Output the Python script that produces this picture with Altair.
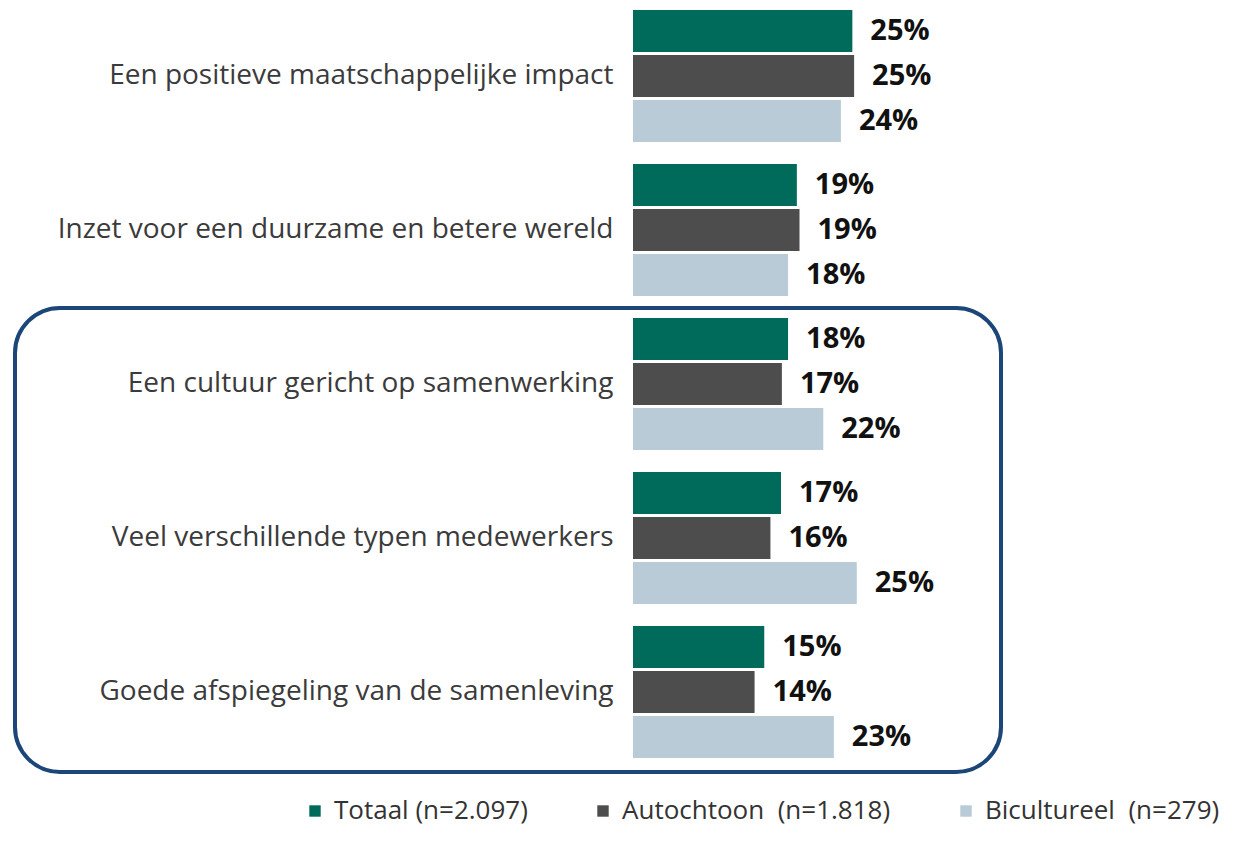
import altair as alt
import pandas as pd

categories = [
    "Een positieve maatschappelijke impact",
    "Inzet voor een duurzame en betere wereld",
    "Een cultuur gericht op samenwerking",
    "Veel verschillende typen medewerkers",
    "Goede afspiegeling van de samenleving",
]
series = ["Totaal (n=2.097)", "Autochtoon\u00a0 (n=1.818)", "Bicultureel\u00a0 (n=279)"]
totaal = [24.9, 18.6, 17.6, 16.8, 14.9]
autochtoon = [25.1, 18.9, 16.9, 15.6, 13.8]
bicultureel = [23.6, 17.6, 21.6, 25.4, 22.8]
colors = ["#006b5a", "#4d4d4d", "#b9cbd6"]

rows = []
for vals, s in zip([totaal, autochtoon, bicultureel], series):
    for c, v in zip(categories, vals):
        rows.append({"cat": c, "series": s, "value": v})
df = pd.DataFrame(rows)

font = "Open Sans"

y_enc = alt.Y("cat:N", sort=categories, title=None,
              scale=alt.Scale(paddingInner=0.143, paddingOuter=0.013),
              axis=alt.Axis(domain=False, ticks=False, labelPadding=20,
                            labelFontSize=28, labelColor="#3b3b3b",
                            labelFont=font, labelLimit=700))
yoff = alt.YOffset("series:N", sort=series,
                   scale=alt.Scale(paddingInner=0.067, paddingOuter=0))
x_enc = alt.X("value:Q", title=None, axis=None,
              scale=alt.Scale(domain=[0, 42], nice=False))

bars = alt.Chart(df).mark_bar().encode(
    y=y_enc,
    yOffset=yoff,
    x=x_enc,
    color=alt.Color("series:N", sort=series,
                    scale=alt.Scale(domain=series, range=colors),
                    legend=alt.Legend(orient="none", legendX=-331, legendY=790,
                                      direction="horizontal", title=None,
                                      symbolType="square", symbolSize=130,
                                      symbolStrokeWidth=0, padding=0,
                                      labelFontSize=26, labelFont=font,
                                      labelColor="#333333", columnPadding=62,
                                      labelOffset=6, labelLimit=400)),
)

text = alt.Chart(df).transform_calculate(
    lbl="format(datum.value, '.0f') + '%'"
).mark_text(
    align="left", baseline="middle", dx=18, fontSize=29,
    fontWeight="bold", font=font, color="#111111",
).encode(
    y=alt.Y("cat:N", sort=categories),
    yOffset=alt.YOffset("series:N", sort=series),
    x=alt.X("value:Q"),
    text="lbl:N",
)

box = alt.Chart(pd.DataFrame({"a": [0]})).mark_rect(
    fill=None, filled=False, stroke="#1b4677", strokeWidth=4, cornerRadius=45
).encode(
    x=alt.value(-618), x2=alt.value(368),
    y=alt.value(300), y2=alt.value(764),
)

chart = alt.layer(bars, text, box).properties(
    width=370, height=752,
    padding={"left": 5, "top": 0, "right": 0, "bottom": 6},
).configure_view(stroke=None)

chart.save("out.html", embed_options={"renderer": "svg", "actions": False})
